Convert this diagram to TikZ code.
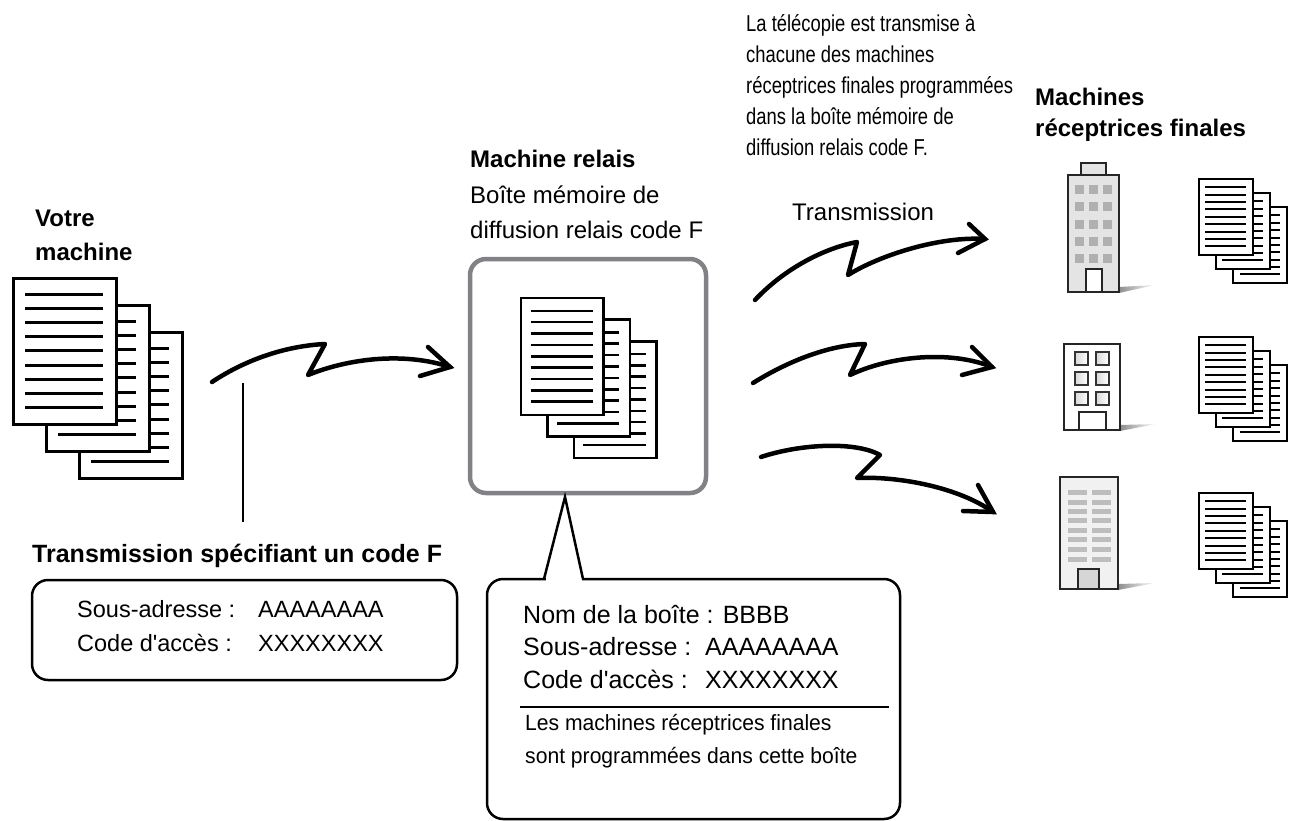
\documentclass[tikz,border=0pt]{standalone}
\usepackage{fontspec}
\setmainfont{Liberation Sans}[Ligatures=TeXOff]
\newfontfamily\condA{Liberation Sans}[FakeStretch=0.8,Ligatures=TeXOff]
\newfontfamily\condB{Liberation Sans}[FakeStretch=0.96,Ligatures=TeXOff]
\definecolor{boxgray}{HTML}{808285}
\definecolor{bldA}{HTML}{E4E4E4}
\definecolor{winA}{HTML}{B0B0B0}
\definecolor{bldC}{HTML}{F1F1F1}
\definecolor{winC}{HTML}{BDBDBD}
\definecolor{doorC}{HTML}{D6D6D6}
\definecolor{winB}{HTML}{D8D8D8}
\newcommand\mydocs[4]{%
\begin{scope}[shift={(#1,#2)},scale=#3,line width=#4]
 \foreach \dx/\dy in {66/54,33/27,0/0}{
   \draw[fill=white] (\dx,\dy) rectangle ++(103,146);
   \foreach \k in {0,...,8}{\draw (\dx+12,\dy+16+\k*14.2) -- ++(78,0);}
 }
\end{scope}}
\tikzset{
  lbl/.style={anchor=base west,inner sep=0pt,font=\fontsize{24}{29}\selectfont},
  blbl/.style={anchor=base west,inner sep=0pt,font=\fontsize{24}{29}\selectfont\bfseries},
  clbl/.style={anchor=base west,inner sep=0pt,font=\fontsize{23.5}{28}\selectfont},
  dlbl/.style={anchor=base west,inner sep=0pt,font=\fontsize{25}{30}\selectfont},
  plbl/.style={anchor=base west,inner sep=0pt,font=\fontsize{23}{28}\selectfont\condA},
  qlbl/.style={anchor=base west,inner sep=0pt,font=\fontsize{22}{28}\selectfont\condB},
  zz/.style={line width=4.5pt,line cap=round,line join=round},
  tip/.style={line width=4.5pt,line cap=round,line join=miter},
  bld/.style={line width=2pt,draw=black!85},
}
\begin{document}
\begin{tikzpicture}[x=1pt,y=-1pt]
\useasboundingbox[fill=white] (0,0) rectangle (1298,821);

% ---- texts top
\node[blbl] (votreA) at (35,226) {Votre};
\node[blbl] (votreB) at (35,260) {machine};
\node[blbl] (relaisA) at (470,168) {Machine relais};
\node[lbl] (relaisB) at (470,204) {Boîte mémoire de};
\node[lbl] (relaisC) at (470,238) {diffusion relais code F};
\node[lbl] (transm) at (792,220) {Transmission};
\node[plbl] (parA) at (746,32) {La télécopie est transmise à};
\node[plbl] (parB) at (746,63) {chacune des machines};
\node[plbl] (parC) at (746,94) {réceptrices finales programmées};
\node[plbl] (parD) at (746,125) {dans la boîte mémoire de};
\node[plbl] (parE) at (746,156) {diffusion relais code F.};
\node[blbl] (finA) at (1035,106) {Machines};
\node[blbl] (finB) at (1035,137) {réceptrices finales};

% ---- documents
\mydocs{13}{278}{1}{3pt}
\mydocs{521}{298}{0.8}{2.6pt}
\mydocs{1199}{179}{0.52}{2pt}
\mydocs{1199}{337}{0.52}{2pt}
\mydocs{1199}{493}{0.52}{2pt}

% ---- relay box
\draw[draw=boxgray,line width=4.5pt,rounded corners=16pt] (470,259) rectangle (706,493);
\coordinate (relaybox) at (588,376);

% ---- buildings
% building 1
\shade[left color=black!45,right color=white] (1119,293) -- (1155,285) -- (1119,287) -- cycle;
\draw[bld,fill=bldA] (1081,163) rectangle (1106,175);
\draw[bld,fill=bldA] (1068,175) rectangle (1119,292);
\foreach \wx in {1075,1089,1103}{\foreach \wy in {185,202,220,237,254}{\fill[winA] (\wx,\wy) rectangle ++(9,9);}}
\draw[bld,fill=white] (1086,269) rectangle (1102,292);
% building 2
\shade[left color=black!45,right color=white] (1120,431) -- (1156,424) -- (1120,425) -- cycle;
\draw[bld,fill=white] (1064,344) rectangle (1120,430);
\foreach \wx in {1075,1096}{\foreach \wy in {352,372,392}{\draw[line width=1.4pt,draw=black!80,left color=winB,right color=white] (\wx,\wy) rectangle ++(13,13);}}
\draw[bld,fill=white] (1079,412) rectangle (1106,430);
% building 3
\shade[left color=black!45,right color=white] (1118,590) -- (1155,583) -- (1118,584) -- cycle;
\draw[bld,fill=bldC] (1060,477) rectangle (1118,589);
\foreach \wy in {490,500,509,518,528,537,547,557}{\fill[winC] (1068,\wy) rectangle ++(19,5); \fill[winC] (1092,\wy) rectangle ++(19,5);}
\draw[bld,fill=doorC] (1078,569) rectangle (1099,589);

% ---- arrow from own machine to relay
\coordinate (a1s) at (212,382); \coordinate (a1p) at (325,344); \coordinate (a1z) at (308,375);
\coordinate (a1t) at (450,367); \coordinate (a1u) at (428,347); \coordinate (a1d) at (420,376);
\draw[zz] (a1s) .. controls (245,360) and (285,346) .. (a1p) -- (a1z) .. controls (350,358) and (405,352) .. (a1t);
\draw[tip] (a1u) -- (a1t) -- (a1d);

% ---- three transmission arrows
\coordinate (b1s) at (755,300); \coordinate (b1p) at (857,242); \coordinate (b1z) at (848,275);
\coordinate (b1t) at (985,239); \coordinate (b1u) at (969,224); \coordinate (b1d) at (958,253);
\draw[zz] (b1s) .. controls (785,268) and (825,248) .. (b1p) -- (b1z) .. controls (880,255) and (940,236) .. (b1t);
\draw[tip] (b1u) -- (b1t) -- (b1d);

\coordinate (b2s) at (753,383); \coordinate (b2p) at (865,344); \coordinate (b2z) at (850,375);
\coordinate (b2t) at (992,367); \coordinate (b2u) at (972,347); \coordinate (b2d) at (962,375);
\draw[zz] (b2s) .. controls (790,360) and (830,345) .. (b2p) -- (b2z) .. controls (890,356) and (950,350) .. (b2t);
\draw[tip] (b2u) -- (b2t) -- (b2d);

\coordinate (b3s) at (761,457); \coordinate (b3p) at (880,455); \coordinate (b3z) at (857,478);
\coordinate (b3t) at (993,512); \coordinate (b3u) at (978,485); \coordinate (b3d) at (963,511);
\draw[zz] (b3s) .. controls (800,444) and (855,441) .. (b3p) -- (b3z) .. controls (900,476) and (960,488) .. (b3t);
\draw[tip] (b3u) -- (b3t) -- (b3d);

% ---- left callout
\coordinate (lineTop) at (243,383);
\coordinate (lineBot) at (243,522);
\draw[line width=2.5pt] (lineTop) -- (lineBot);
\node[blbl,font=\fontsize{25}{30}\selectfont\bfseries] (spec) at (32,562) {Transmission spécifiant un code F};
\draw[line width=2.5pt,rounded corners=16pt] (32,580) rectangle (457,680);
\node[clbl] (lsubA) at (77,617) {Sous-adresse :};
\node[clbl] (lsubB) at (258,617) {AAAAAAAA};
\node[clbl] (lcodA) at (77,651) {Code d'accès :};
\node[clbl] (lcodB) at (258,651) {XXXXXXXX};

% ---- bottom callout
\draw[line width=2.5pt,fill=white,rounded corners=16pt] (487,579) rectangle (900,819);
\fill[white] (545.5,576) rectangle (581.5,582);
\coordinate (cbL) at (544,579); \coordinate (cApex) at (565,497); \coordinate (cbR) at (583,579);
\draw[line width=2.5pt,line join=miter] (cbL) -- (cApex) -- (cbR);
\node[dlbl] (bnom) at (523,623) {Nom de la boîte : BBBB};
\node[dlbl] (bsubA) at (523,655) {Sous-adresse :};
\node[dlbl] (bsubB) at (705,655) {AAAAAAAA};
\node[dlbl] (bcodA) at (523,688) {Code d'accès :};
\node[dlbl] (bcodB) at (705,688) {XXXXXXXX};
\coordinate (sepL) at (520,707); \coordinate (sepR) at (889,707);
\draw[line width=2pt] (sepL) -- (sepR);
\node[qlbl] (bnoteA) at (525,730) {Les machines réceptrices finales};
\node[qlbl] (bnoteB) at (525,763) {sont programmées dans cette boîte};
\end{tikzpicture}
\end{document}
